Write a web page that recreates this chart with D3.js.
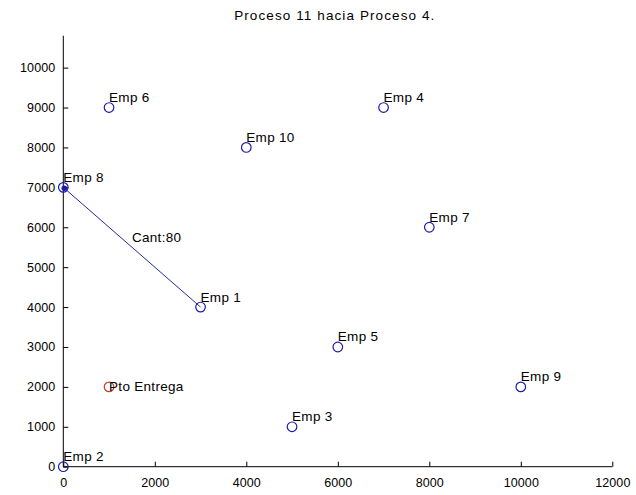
<!DOCTYPE html>
<html>
<head>
<meta charset="utf-8">
<script src="https://cdn.jsdelivr.net/npm/d3@7"></script>
<style>
  html, body { margin: 0; padding: 0; background: #fff; }
  svg { display: block; }
  text { font-family: "Liberation Sans", Arial, sans-serif; fill: #000; }
</style>
</head>
<body>
<svg id="chart" width="636" height="495"></svg>
<script>
// ---- data ----
const title = "Proceso 11 hacia Proceso 4.";
const empNames = ["Emp 1","Emp 2","Emp 3","Emp 4","Emp 5","Emp 6","Emp 7","Emp 8","Emp 9","Emp 10"];
const empX = [3000, 0, 5000, 7000, 6000, 1000, 8000, 0, 10000, 4000];
const empY = [4000, 0, 1000, 9000, 3000, 9000, 6000, 7000, 2000, 8000];
const deliveryName = "Pto Entrega";
const deliveryX = [1000];
const deliveryY = [2000];
const routeFrom = 0;   // Emp 1
const routeTo = 7;     // Emp 8
const routeLabel = "Cant:80";
const xTicks = [0, 2000, 4000, 6000, 8000, 10000, 12000];
const yTicks = [0, 1000, 2000, 3000, 4000, 5000, 6000, 7000, 8000, 9000, 10000];
const xDomain = [0, 12000];
const yDomain = [0, 10800];

// ---- layout ----
const svg = d3.select("#chart");
const mLeft = 63.3, mRight = 612.3, mTop = 35.7, mBottom = 466.7;
const x = d3.scaleLinear().domain(xDomain).range([mLeft, mRight]);
const y = d3.scaleLinear().domain(yDomain).range([mBottom, mTop]);

const markerBlue = "#1c1ca8";
const lineBlue = "#2828a0";
const red = "#c83a3a";

// axes (MATLAB style: ticks inward, no box)
const xAxis = d3.axisBottom(x).tickValues(xTicks).tickSizeInner(-5).tickSizeOuter(0).tickPadding(11)
  .tickFormat(d3.format("d"));
const yAxis = d3.axisLeft(y).tickValues(yTicks).tickSizeInner(-5).tickSizeOuter(0).tickPadding(8)
  .tickFormat(d3.format("d"));

const gx = svg.append("g").attr("transform", `translate(0,${mBottom})`).call(xAxis);
const gy = svg.append("g").attr("transform", `translate(${mLeft},0)`).call(yAxis);
[gx, gy].forEach(g => {
  g.select(".domain").attr("stroke", "#000").attr("stroke-width", 1);
  g.selectAll(".tick line").attr("stroke", "#000");
  g.selectAll(".tick text").style("font-size", "12.5px").style("letter-spacing", "0.1px")
    .attr("fill", "#000");
});
gy.select(".domain").attr("d", `M0,${y(yDomain[1])}V${mBottom}`);
gx.select(".domain").attr("d", `M${mLeft},0H${mRight}`);

// title
svg.append("text").attr("x", (mLeft + mRight) / 2 - 3).attr("y", 20)
  .attr("text-anchor", "middle").style("font-size", "13.5px").style("letter-spacing", "1.1px")
  .text(title);

// route line
svg.append("line")
  .attr("x1", x(empX[routeFrom])).attr("y1", y(empY[routeFrom]))
  .attr("x2", x(empX[routeTo])).attr("y2", y(empY[routeTo]))
  .attr("stroke", lineBlue).attr("stroke-width", 1);

const midX = (empX[routeFrom] + empX[routeTo]) / 2;
const midY = (empY[routeFrom] + empY[routeTo]) / 2;
svg.append("text").attr("x", x(midX)).attr("y", y(midY) - 10)
  .attr("dominant-baseline", "central").style("font-size", "13.5px").style("letter-spacing", "0.3px")
  .text(routeLabel);

// arrow end dot at destination
svg.append("circle").attr("cx", x(empX[routeTo]) + 1).attr("cy", y(empY[routeTo]) + 1)
  .attr("r", 2.8).attr("fill", markerBlue);

// delivery point
svg.selectAll(".deliv").data(deliveryX).enter().append("circle")
  .attr("cx", (d) => x(d)).attr("cy", (d, i) => y(deliveryY[i]))
  .attr("r", 4.8).attr("fill", "none").attr("stroke", red).attr("stroke-width", 1.2);
svg.selectAll(".delivLabel").data(deliveryX).enter().append("text")
  .attr("x", (d) => x(d)).attr("y", (d, i) => y(deliveryY[i]))
  .attr("dominant-baseline", "central").style("font-size", "13.5px").style("letter-spacing", "0.3px")
  .text(deliveryName);

// emp markers
const emps = empNames.map((n, i) => ({ name: n, x: empX[i], y: empY[i] }));
svg.selectAll(".emp").data(emps).enter().append("circle")
  .attr("cx", d => x(d.x)).attr("cy", d => y(d.y))
  .attr("r", 4.8).attr("fill", "none").attr("stroke", markerBlue).attr("stroke-width", 1.2);
svg.selectAll(".empLabel").data(emps).enter().append("text")
  .attr("x", d => x(d.x)).attr("y", d => y(d.y) - 10)
  .attr("dominant-baseline", "central").style("font-size", "13.5px").style("letter-spacing", "0.3px")
  .text(d => d.name);
</script>
</body>
</html>
